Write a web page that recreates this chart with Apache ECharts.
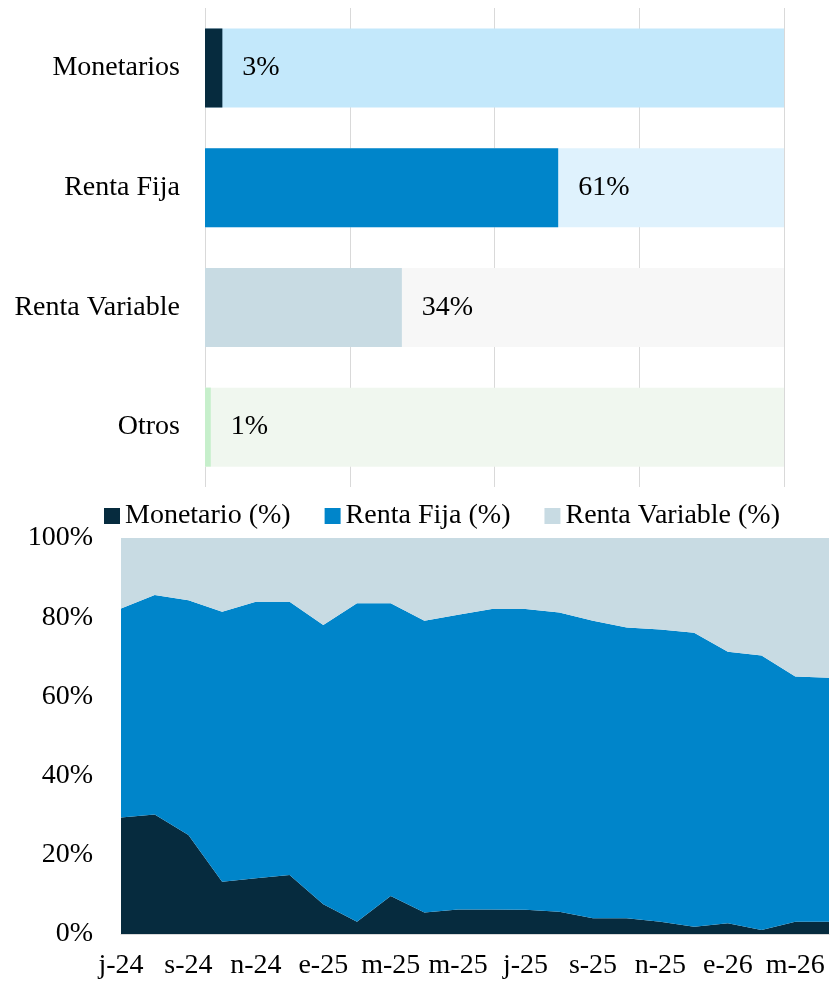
<!DOCTYPE html>
<html style="height: 100%">
   <head>
       <meta charset="utf-8">
   </head>
   <body style="height: 100%; margin: 0; background: #fff">
       <div id="container" style="width: 831px; height: 986px"></div>
       <script type="text/javascript" src="https://cdn.jsdelivr.net/npm/echarts@6/dist/echarts.min.js"></script>
       <script type="text/javascript">
// --- cartera actual (barras) ---
var tipos = ['Monetarios', 'Renta Fija', 'Renta Variable', 'Otros'];
var pesos = [3, 61, 34, 1];
var total = [100, 100, 100, 100];

// --- evolucion mensual (areas apiladas) ---
var meses = ['j-24', 'a-24', 's-24', 'o-24', 'n-24', 'd-24', 'e-25', 'f-25', 'm-25', 'a-25', 'm-25',
             'j-25', 'j-25', 'a-25', 's-25', 'o-25', 'n-25', 'd-25', 'e-26', 'f-26', 'm-26', 'a-26'];
var monetario = [29.4, 30.2, 25.0, 13.2, 14.1, 14.9, 7.5, 3.1, 9.6, 5.4, 6.2,
                 6.2, 6.1, 5.6, 4.0, 4.0, 3.1, 1.8, 2.7, 1.0, 3.1, 3.1];
var rentaFija = [52.8, 55.4, 59.3, 68.2, 69.8, 69.0, 70.5, 80.4, 73.9, 73.7, 74.4,
                 75.9, 76.0, 75.6, 75.1, 73.4, 73.8, 74.3, 68.6, 69.3, 61.9, 61.6];
var rentaVariable = [17.8, 14.4, 15.7, 18.6, 16.1, 16.1, 22.0, 16.5, 16.5, 20.9, 19.4,
                     17.9, 17.9, 18.8, 20.9, 22.6, 23.1, 23.9, 28.7, 29.7, 35.0, 35.3];
var ticksY = [0, 20, 40, 60, 80, 100];

var colFuerte = ['#062b3e', '#0085ca', '#c8dbe3', '#c6efcb'];
var colSuave = ['#c3e8fb', '#dff2fd', '#f7f7f7', '#f0f7ef'];
var fuente = 'Liberation Serif';

var dom = document.getElementById('container');
var myChart = echarts.init(dom);

var option = {
    animation: false,
    textStyle: { fontFamily: fuente, color: '#000' },
    legend: {
        data: ['Monetario (%)', 'Renta Fija (%)', 'Renta Variable (%)'],
        left: 99,
        top: 497,
        icon: 'rect',
        itemWidth: 16,
        itemHeight: 16,
        itemGap: 34,
        textStyle: { fontFamily: fuente, fontSize: 28, color: '#000' }
    },
    grid: [
        { left: 205, right: 47, top: 8, height: 479 },
        { left: 121, right: 2, top: 538, bottom: 52 }
    ],
    xAxis: [
        {
            gridIndex: 0, type: 'value', min: 0, max: 100, interval: 25,
            axisLabel: { show: false }, axisLine: { show: false }, axisTick: { show: false },
            splitLine: { lineStyle: { color: '#d9d9d9', width: 1 } }
        },
        {
            gridIndex: 1, type: 'category', data: meses, boundaryGap: false,
            axisLine: { lineStyle: { color: '#d9d9d9', width: 1 } },
            axisTick: { show: false },
            axisLabel: { interval: 1, fontSize: 28, color: '#000', fontFamily: fuente, margin: 18 }
        }
    ],
    yAxis: [
        {
            gridIndex: 0, type: 'category', data: tipos, inverse: true,
            axisLine: { show: false }, axisTick: { show: false },
            axisLabel: { fontSize: 28, color: '#000', fontFamily: fuente, margin: 25 }
        },
        {
            gridIndex: 1, type: 'value', min: 0, max: 100, interval: 20,
            axisLine: { show: false }, axisTick: { show: false },
            splitLine: { show: false },
            axisLabel: {
                fontSize: 28, color: '#000', fontFamily: fuente, margin: 28,
                padding: [6, 0, 0, 0],
                formatter: function (v) { return ticksY.indexOf(v) >= 0 ? v + '%' : ''; }
            }
        }
    ],
    series: [
        {
            name: 'fondo', type: 'bar', xAxisIndex: 0, yAxisIndex: 0,
            barWidth: 79, barGap: '-100%', silent: true,
            data: total.map(function (v, i) {
                return { value: v, itemStyle: { color: colSuave[i] } };
            })
        },
        {
            name: 'peso', type: 'bar', xAxisIndex: 0, yAxisIndex: 0,
            barWidth: 79, barGap: '-100%',
            data: pesos.map(function (v, i) {
                return { value: v, itemStyle: { color: colFuerte[i] } };
            }),
            label: {
                show: true, position: 'right', distance: 20,
                formatter: '{c}%', fontSize: 28, color: '#000', fontFamily: fuente
            }
        },
        {
            name: 'Monetario (%)', type: 'line', xAxisIndex: 1, yAxisIndex: 1,
            stack: 'total', data: monetario, symbol: 'none',
            lineStyle: { width: 0 }, itemStyle: { color: colFuerte[0] },
            areaStyle: { color: colFuerte[0], opacity: 1 }
        },
        {
            name: 'Renta Fija (%)', type: 'line', xAxisIndex: 1, yAxisIndex: 1,
            stack: 'total', data: rentaFija, symbol: 'none',
            lineStyle: { width: 0 }, itemStyle: { color: colFuerte[1] },
            areaStyle: { color: colFuerte[1], opacity: 1 }
        },
        {
            name: 'Renta Variable (%)', type: 'line', xAxisIndex: 1, yAxisIndex: 1,
            stack: 'total', data: rentaVariable, symbol: 'none',
            lineStyle: { width: 0 }, itemStyle: { color: colFuerte[2] },
            areaStyle: { color: colFuerte[2], opacity: 1 }
        }
    ]
};
myChart.setOption(option);
       </script>
   </body>
</html>
